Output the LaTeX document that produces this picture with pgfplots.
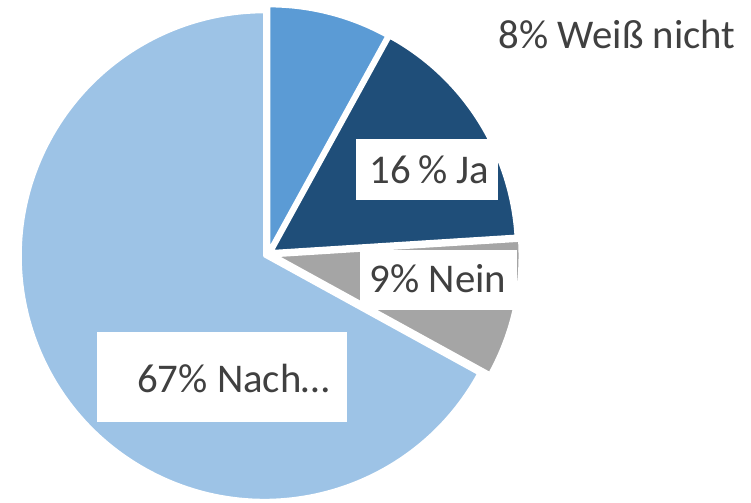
\documentclass[border=0pt]{standalone}
\usepackage{pgfplots}
\pgfplotsset{compat=1.18}
\usepackage{fontspec}
\setmainfont{Carlito}
\definecolor{cWeiss}{HTML}{5B9BD5}
\definecolor{cJa}{HTML}{1F4E79}
\definecolor{cNein}{HTML}{A5A5A5}
\definecolor{cNach}{HTML}{9DC3E6}
\definecolor{txt}{HTML}{404040}
% slice values (percent)
\def\vW{8}\def\vJ{16}\def\vN{9}\def\vR{67}
\pgfmathsetmacro\aA{90}
\pgfmathsetmacro\aB{\aA-3.6*\vW}
\pgfmathsetmacro\aC{\aB-3.6*\vJ}
\pgfmathsetmacro\aD{\aC-3.6*\vN}
\pgfmathsetmacro\aE{\aD-3.6*\vR}
% #1 start, #2 end, #3 colour, #4 explode (px)
\newcommand{\slice}[4]{%
  \fill[#3, draw=white, line width=0.8pt, line join=round]
    (axis cs:268,248) ++({(#1+#2)/2}:{#4*0.01cm}) -- ++(#1:2.44cm)
    arc[start angle=#1, end angle=#2, radius=2.44cm] -- cycle;}
\begin{document}
\begin{tikzpicture}
\begin{axis}[x=0.01cm, y=0.01cm, xmin=0, xmax=751, ymin=0, ymax=502,
  hide axis, clip=false, scale only axis]
\slice{\aA}{\aB}{cWeiss}{4}
\slice{\aB}{\aC}{cJa}{5}
\slice{\aC}{\aD}{cNein}{8}
\slice{\aD}{\aE}{cNach}{4}
\fill[white] (axis cs:356,363) rectangle (axis cs:498,302);
\fill[white] (axis cs:360,252) rectangle (axis cs:517,192);
\fill[white] (axis cs:97,170) rectangle (axis cs:347,80);
\begin{scope}[every node/.style={text=txt, font=\fontsize{11.6}{14}\selectfont, anchor=base, inner sep=0pt}]
\node at (axis cs:617,454) {8\% Weiß nicht};
\node at (axis cs:429.5,319) {16\,\% Ja};
\node at (axis cs:438,210) {9\% Nein};
\node at (axis cs:233.5,110) {67\% Nach…};
\end{scope}
\end{axis}
\pgfresetboundingbox
\useasboundingbox (current axis.south west) rectangle (current axis.north east);
\end{tikzpicture}
\end{document}
